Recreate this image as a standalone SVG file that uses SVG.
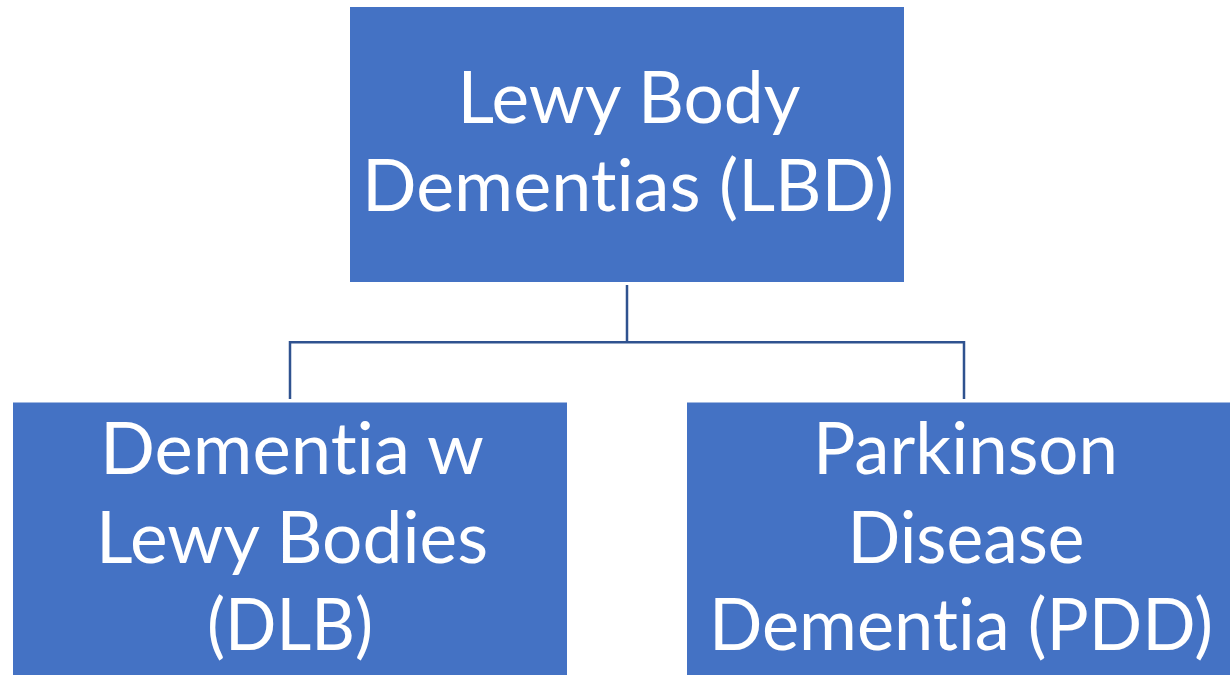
<svg xmlns="http://www.w3.org/2000/svg" width="1230" height="675" viewBox="0 0 1230 675">
  <style>
    .box { fill: #4472C4; }
    .lbl { font-family: Lato, "Open Sans", "Liberation Sans", sans-serif; font-size: 72px; fill: #FFFFFF; text-anchor: middle; font-variant-ligatures: none; font-feature-settings: "liga" 0, "clig" 0; }
    .conn { fill: none; stroke: #2F528F; stroke-width: 2.5; }
  </style>
  <rect width="1230" height="675" fill="#FFFFFF"/>
  <g id="connectors">
    <path class="conn" d="M627,285 V342.3 M290,342.3 H964 M290,341 V399 M964,341 V399"/>
  </g>
  <g id="node-lbd">
    <rect class="box" x="350" y="7" width="554" height="275"/>
    <text class="lbl" x="629" y="123" textLength="343" lengthAdjust="spacingAndGlyphs">Lewy Body</text>
    <text class="lbl" x="628" y="210.5" textLength="532" lengthAdjust="spacingAndGlyphs">Dementias (LBD)</text>
  </g>
  <g id="node-dlb">
    <rect class="box" x="13" y="402.5" width="554" height="275"/>
    <text class="lbl" x="292" y="474" textLength="384" lengthAdjust="spacingAndGlyphs">Dementia w</text>
    <text class="lbl" x="292" y="562.5" textLength="392" lengthAdjust="spacingAndGlyphs">Lewy Bodies</text>
    <text class="lbl" x="290" y="650" textLength="166" lengthAdjust="spacingAndGlyphs">(DLB)</text>
  </g>
  <g id="node-pdd">
    <rect class="box" x="687" y="402.5" width="556" height="275"/>
    <text class="lbl" x="965.5" y="474" textLength="305" lengthAdjust="spacingAndGlyphs">Parkinson</text>
    <text class="lbl" x="966" y="562.5" textLength="237" lengthAdjust="spacingAndGlyphs">Disease</text>
    <text class="lbl" x="961" y="650" textLength="504" lengthAdjust="spacingAndGlyphs">Dementia (PDD)</text>
  </g>
</svg>
